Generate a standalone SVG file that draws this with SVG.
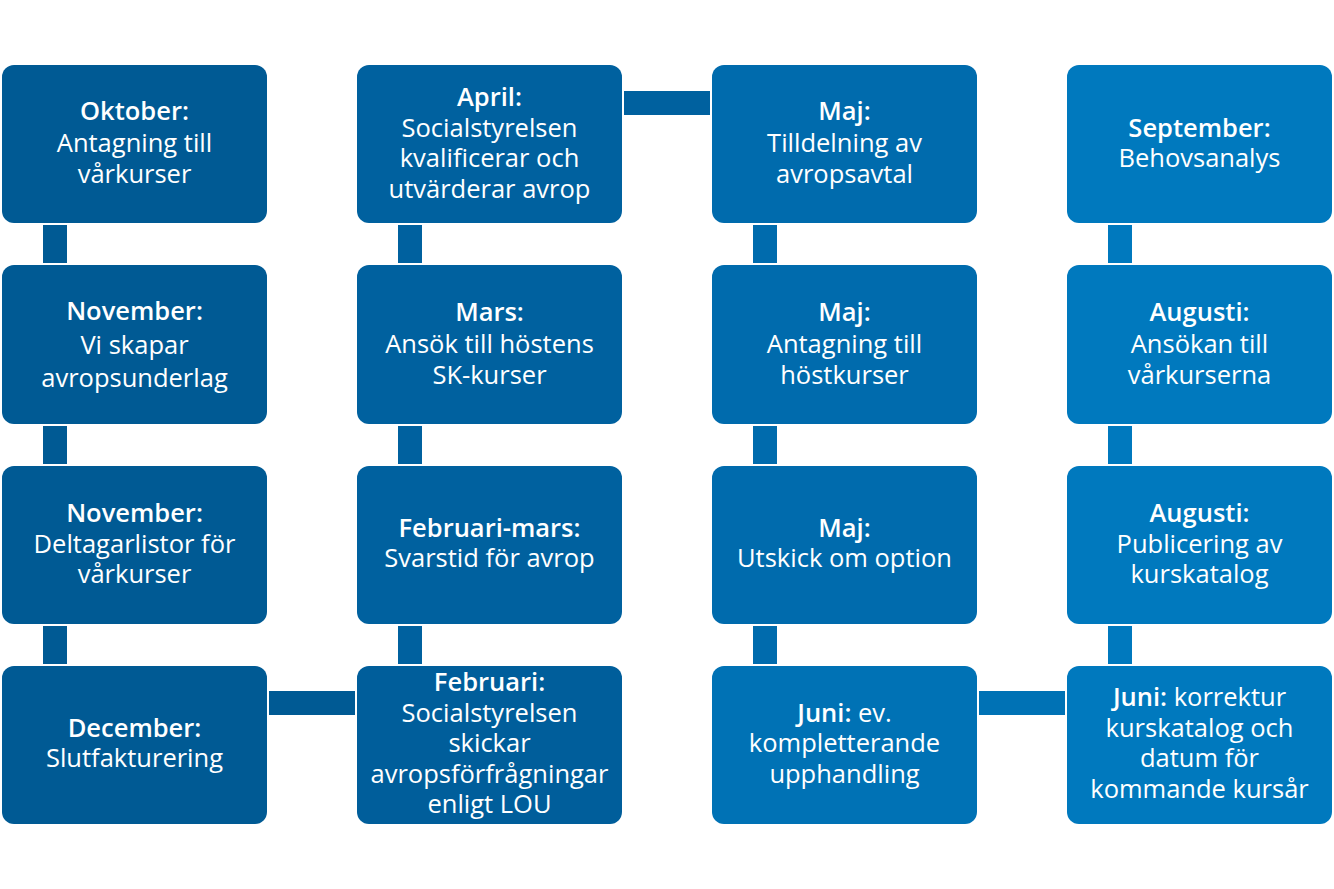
<svg xmlns="http://www.w3.org/2000/svg" width="1334" height="889" viewBox="0 0 1334 889">
<style>
text{font-family:"Open Sans","Noto Sans","Liberation Sans",sans-serif;font-size:25.5px;fill:#fff;text-anchor:middle}
.b{font-weight:600}
.c1{fill:#005A94}.c2{fill:#00619F}.c3{fill:#006BAD}.c4{fill:#0079BE}.c2b{fill:#005E9B}.c3b{fill:#0072B5}
</style>
<rect width="1334" height="889" fill="#fff"/>
<g id="connectors">
<rect class="c1" x="43" y="225" width="24" height="38"/>
<rect class="c1" x="43" y="426" width="24" height="38"/>
<rect class="c1" x="43" y="626" width="24" height="38"/>
<rect class="c2" x="398" y="225" width="24" height="38"/>
<rect class="c2" x="398" y="426" width="24" height="38"/>
<rect class="c2" x="398" y="626" width="24" height="38"/>
<rect class="c3" x="753" y="225" width="24" height="38"/>
<rect class="c3" x="753" y="426" width="24" height="38"/>
<rect class="c3" x="753" y="626" width="24" height="38"/>
<rect class="c4" x="1108" y="225" width="24" height="38"/>
<rect class="c4" x="1108" y="426" width="24" height="38"/>
<rect class="c4" x="1108" y="626" width="24" height="38"/>
<rect class="c2" x="624" y="91" width="86" height="24"/>
<rect class="c1" x="269" y="691" width="86" height="24"/>
<rect class="c3b" x="979" y="691" width="86" height="24"/>
</g>
<g id="oktober"><rect class="c1" x="2" y="65" width="265" height="158" rx="12"/>
<text x="134.5" y="120" class="b">Oktober:</text><text x="134.5" y="152">Antagning till</text><text x="134.5" y="183">vårkurser</text></g>
<g id="november1"><rect class="c1" x="2" y="265" width="265" height="159" rx="12"/>
<text x="134.5" y="320" class="b">November:</text><text x="134.5" y="354">Vi skapar</text><text x="134.5" y="387">avropsunderlag</text></g>
<g id="november2"><rect class="c1" x="2" y="466" width="265" height="158" rx="12"/>
<text x="134.5" y="522" class="b">November:</text><text x="134.5" y="553">Deltagarlistor för</text><text x="134.5" y="583">vårkurser</text></g>
<g id="december"><rect class="c1" x="2" y="666" width="265" height="158" rx="12"/>
<text x="134.5" y="737" class="b">December:</text><text x="134.5" y="767">Slutfakturering</text></g>
<g id="april"><rect class="c2" x="357" y="65" width="265" height="158" rx="12"/>
<text x="489.5" y="106" class="b">April:</text><text x="489.5" y="137">Socialstyrelsen</text><text x="489.5" y="167">kvalificerar och</text><text x="489.5" y="198">utvärderar avrop</text></g>
<g id="mars"><rect class="c2" x="357" y="265" width="265" height="159" rx="12"/>
<text x="489.5" y="321" class="b">Mars:</text><text x="489.5" y="353">Ansök till höstens</text><text x="489.5" y="384">SK-kurser</text></g>
<g id="februari-mars"><rect class="c2" x="357" y="466" width="265" height="158" rx="12"/>
<text x="489.5" y="537" class="b">Februari-mars:</text><text x="489.5" y="567">Svarstid för avrop</text></g>
<g id="februari"><rect class="c2b" x="357" y="666" width="265" height="158" rx="12"/>
<text x="489.5" y="691" class="b">Februari:</text><text x="489.5" y="722">Socialstyrelsen</text><text x="489.5" y="752">skickar</text><text x="489.5" y="783">avropsförfrågningar</text><text x="489.5" y="813">enligt LOU</text></g>
<g id="maj1"><rect class="c3" x="712" y="65" width="265" height="158" rx="12"/>
<text x="844.5" y="120" class="b">Maj:</text><text x="844.5" y="152">Tilldelning av</text><text x="844.5" y="183">avropsavtal</text></g>
<g id="maj2"><rect class="c3" x="712" y="265" width="265" height="159" rx="12"/>
<text x="844.5" y="321" class="b">Maj:</text><text x="844.5" y="353">Antagning till</text><text x="844.5" y="384">höstkurser</text></g>
<g id="maj3"><rect class="c3" x="712" y="466" width="265" height="158" rx="12"/>
<text x="844.5" y="537" class="b">Maj:</text><text x="844.5" y="567">Utskick om option</text></g>
<g id="juni1"><rect class="c3b" x="712" y="666" width="265" height="158" rx="12"/>
<text x="844.5" y="722"><tspan class="b">Juni:</tspan> ev.</text><text x="844.5" y="752">kompletterande</text><text x="844.5" y="783">upphandling</text></g>
<g id="september"><rect class="c4" x="1067" y="65" width="265" height="158" rx="12"/>
<text x="1199.5" y="137" class="b">September:</text><text x="1199.5" y="167">Behovsanalys</text></g>
<g id="augusti1"><rect class="c4" x="1067" y="265" width="265" height="159" rx="12"/>
<text x="1199.5" y="321" class="b">Augusti:</text><text x="1199.5" y="353">Ansökan till</text><text x="1199.5" y="384">vårkurserna</text></g>
<g id="augusti2"><rect class="c4" x="1067" y="466" width="265" height="158" rx="12"/>
<text x="1199.5" y="522" class="b">Augusti:</text><text x="1199.5" y="553">Publicering av</text><text x="1199.5" y="583">kurskatalog</text></g>
<g id="juni2"><rect class="c4" x="1067" y="666" width="265" height="158" rx="12"/>
<text x="1199.5" y="706"><tspan class="b">Juni:</tspan> korrektur</text><text x="1199.5" y="737">kurskatalog och</text><text x="1199.5" y="767">datum för</text><text x="1199.5" y="798">kommande kursår</text></g>
</svg>
